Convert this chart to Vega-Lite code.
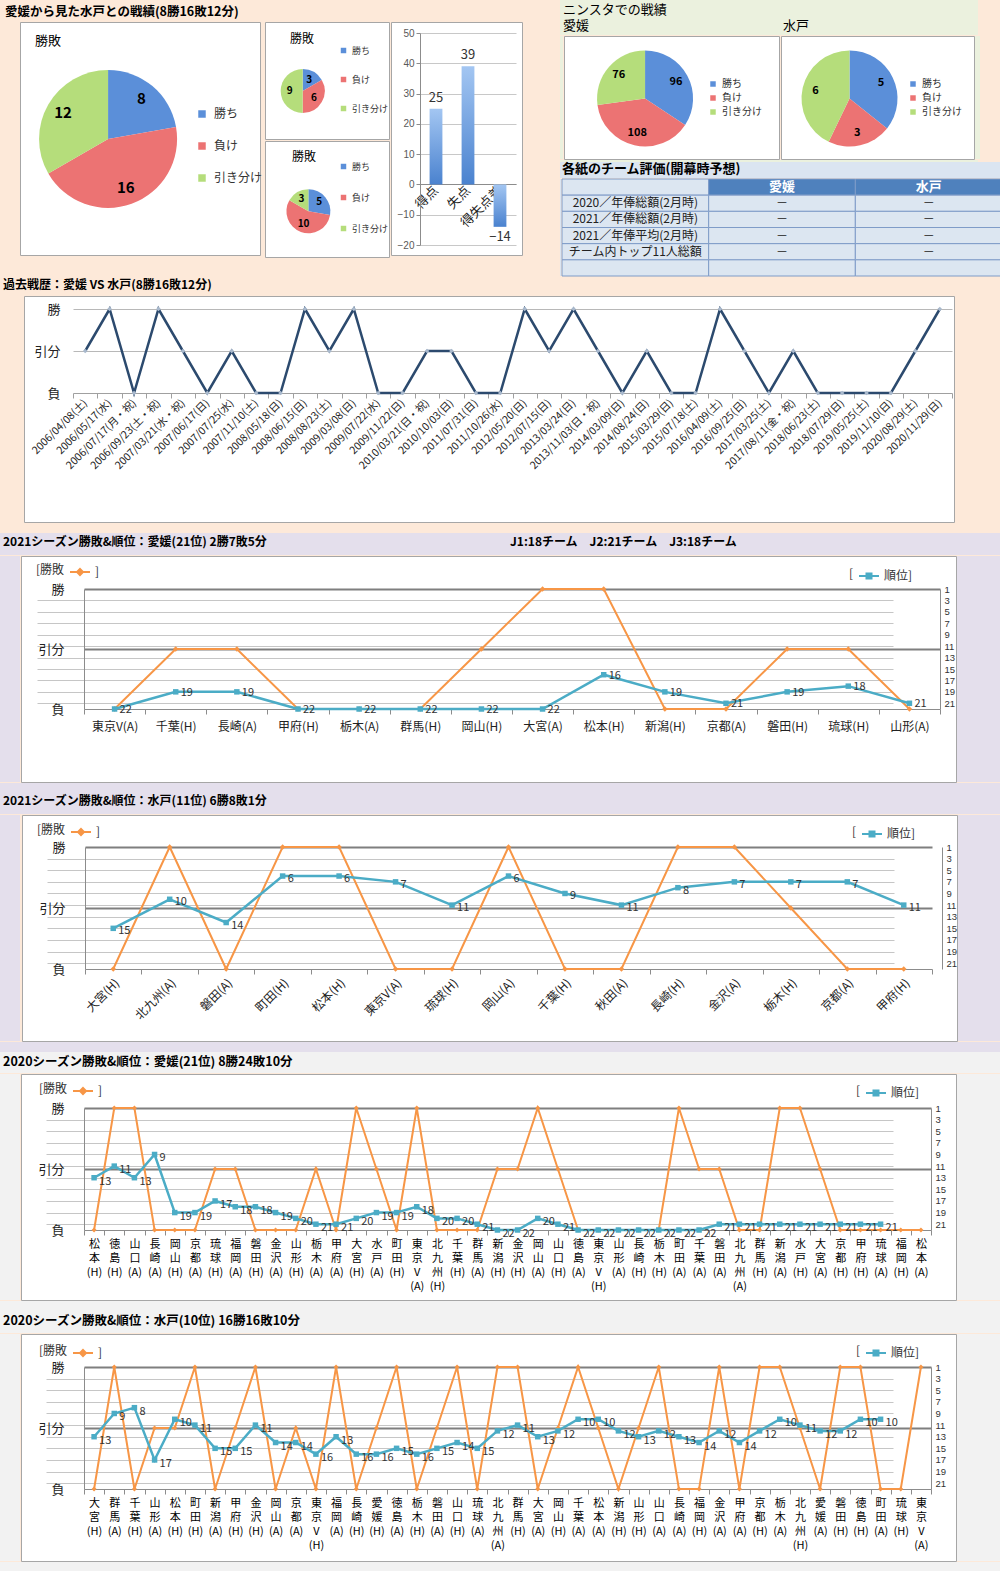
{
"$schema":"https://vega.github.io/schema/vega-lite/v6.json",
"background":"#FDE9D9",
"padding":0,
"spacing":0,
"config":{"font":"Noto Sans CJK JP","view":{"stroke":null},"legend":{"padding":0},"title":{"color":"#000","fontWeight":"bold","fontSize":12,"anchor":"start"},"concat":{"spacing":0}},
"resolve":{"scale":{"color":"independent"}},
"datasets":{
"pAll":[{"k":"勝ち","n":8,"o":1},{"k":"負け","n":16,"o":2},{"k":"引き分け","n":12,"o":3}],
"pS1":[{"k":"勝ち","n":3,"o":1},{"k":"負け","n":6,"o":2},{"k":"引き分け","n":9,"o":3}],
"pS2":[{"k":"勝ち","n":5,"o":1},{"k":"負け","n":10,"o":2},{"k":"引き分け","n":3,"o":3}],
"pE":[{"k":"勝ち","n":96,"o":1},{"k":"負け","n":108,"o":2},{"k":"引き分け","n":76,"o":3}],
"pM":[{"k":"勝ち","n":5,"o":1},{"k":"負け","n":3,"o":2},{"k":"引き分け","n":6,"o":3}],
"bars":[{"k":"得点","v":25},{"k":"失点","v":39},{"k":"得失点差","v":-14}],
"tbl":[
{"r":0,"c":"項目","v":""},{"r":0,"c":"愛媛","v":"愛媛"},{"r":0,"c":"水戸","v":"水戸"},
{"r":1,"c":"項目","v":"2020／年俸総額(2月時)"},{"r":1,"c":"愛媛","v":"－"},{"r":1,"c":"水戸","v":"－"},
{"r":2,"c":"項目","v":"2021／年俸総額(2月時)"},{"r":2,"c":"愛媛","v":"－"},{"r":2,"c":"水戸","v":"－"},
{"r":3,"c":"項目","v":"2021／年俸平均(2月時)"},{"r":3,"c":"愛媛","v":"－"},{"r":3,"c":"水戸","v":"－"},
{"r":4,"c":"項目","v":"チーム内トップ11人総額"},{"r":4,"c":"愛媛","v":"－"},{"r":4,"c":"水戸","v":"－"},
{"r":5,"c":"項目","v":""},{"r":5,"c":"愛媛","v":""},{"r":5,"c":"水戸","v":""}],
"past":[
{"d":"2006/04/08(土)","res":"引分"},{"d":"2006/05/17(水)","res":"勝"},{"d":"2006/07/17(月・祝)","res":"負"},{"d":"2006/09/23(土・祝)","res":"勝"},
{"d":"2007/03/21(水・祝)","res":"引分"},{"d":"2007/06/17(日)","res":"負"},{"d":"2007/07/25(水)","res":"引分"},{"d":"2007/11/10(土)","res":"負"},
{"d":"2008/05/18(日)","res":"負"},{"d":"2008/06/15(日)","res":"勝"},{"d":"2008/08/23(土)","res":"引分"},{"d":"2009/03/08(日)","res":"勝"},
{"d":"2009/07/22(水)","res":"負"},{"d":"2009/11/22(日)","res":"負"},{"d":"2010/03/21(日・祝)","res":"引分"},{"d":"2010/10/03(日)","res":"引分"},
{"d":"2011/07/31(日)","res":"負"},{"d":"2011/10/26(水)","res":"負"},{"d":"2012/05/20(日)","res":"勝"},{"d":"2012/07/15(日)","res":"引分"},
{"d":"2013/03/24(日)","res":"勝"},{"d":"2013/11/03(日・祝)","res":"引分"},{"d":"2014/03/09(日)","res":"負"},{"d":"2014/08/24(日)","res":"引分"},
{"d":"2015/03/29(日)","res":"負"},{"d":"2015/07/18(土)","res":"負"},{"d":"2016/04/09(土)","res":"勝"},{"d":"2016/09/25(日)","res":"引分"},
{"d":"2017/03/25(土)","res":"負"},{"d":"2017/08/11(金・祝)","res":"引分"},{"d":"2018/06/23(土)","res":"負"},{"d":"2018/07/29(日)","res":"負"},
{"d":"2019/05/25(土)","res":"負"},{"d":"2019/11/10(日)","res":"負"},{"d":"2020/08/29(土)","res":"引分"},{"d":"2020/11/29(日)","res":"勝"}],
"e21":[
{"t":"東京V(A)","res":"負","rank":22},{"t":"千葉(H)","res":"引分","rank":19},{"t":"長崎(A)","res":"引分","rank":19},{"t":"甲府(H)","res":"負","rank":22},
{"t":"栃木(A)","res":"負","rank":22},{"t":"群馬(H)","res":"負","rank":22},{"t":"岡山(H)","res":"引分","rank":22},{"t":"大宮(A)","res":"勝","rank":22},
{"t":"松本(H)","res":"勝","rank":16},{"t":"新潟(H)","res":"負","rank":19},{"t":"京都(A)","res":"負","rank":21},{"t":"磐田(H)","res":"引分","rank":19},
{"t":"琉球(H)","res":"引分","rank":18},{"t":"山形(A)","res":"負","rank":21}],
"m21":[
{"t":"大宮(H)","res":"負","rank":15},{"t":"北九州(A)","res":"勝","rank":10},{"t":"磐田(A)","res":"負","rank":14},{"t":"町田(H)","res":"勝","rank":6},
{"t":"松本(H)","res":"勝","rank":6},{"t":"東京V(A)","res":"負","rank":7},{"t":"琉球(H)","res":"負","rank":11},{"t":"岡山(A)","res":"勝","rank":6},
{"t":"千葉(H)","res":"負","rank":9},{"t":"秋田(A)","res":"負","rank":11},{"t":"長崎(H)","res":"勝","rank":8},{"t":"金沢(A)","res":"勝","rank":7},
{"t":"栃木(H)","res":"引分","rank":7},{"t":"京都(A)","res":"負","rank":7},{"t":"甲府(H)","res":"負","rank":11}],
"e20":[
{"t":"松本(H)","res":"負","rank":13},{"t":"徳島(H)","res":"勝","rank":11},{"t":"山口(A)","res":"勝","rank":13},{"t":"長崎(A)","res":"負","rank":9},
{"t":"岡山(H)","res":"負","rank":19},{"t":"京都(A)","res":"負","rank":19},{"t":"琉球(H)","res":"引分","rank":17},{"t":"福岡(A)","res":"引分","rank":18},
{"t":"磐田(H)","res":"負","rank":18},{"t":"金沢(A)","res":"負","rank":19},{"t":"山形(H)","res":"負","rank":20},{"t":"栃木(A)","res":"引分","rank":21},
{"t":"甲府(A)","res":"負","rank":21},{"t":"大宮(H)","res":"勝","rank":20},{"t":"水戸(A)","res":"引分","rank":19},{"t":"町田(H)","res":"負","rank":19},
{"t":"東京V(A)","res":"勝","rank":18},{"t":"北九州(H)","res":"負","rank":20},{"t":"千葉(H)","res":"負","rank":20},{"t":"群馬(A)","res":"負","rank":21},
{"t":"新潟(H)","res":"引分","rank":22},{"t":"金沢(H)","res":"引分","rank":22},{"t":"岡山(A)","res":"勝","rank":20},{"t":"山口(H)","res":"引分","rank":21},
{"t":"徳島(A)","res":"負","rank":22},{"t":"東京V(H)","res":"負","rank":22},{"t":"山形(A)","res":"負","rank":22},{"t":"長崎(H)","res":"負","rank":22},
{"t":"栃木(H)","res":"負","rank":22},{"t":"町田(A)","res":"勝","rank":22},{"t":"千葉(A)","res":"引分","rank":22},{"t":"磐田(A)","res":"引分","rank":21},
{"t":"北九州(A)","res":"負","rank":21},{"t":"群馬(H)","res":"負","rank":21},{"t":"新潟(A)","res":"勝","rank":21},{"t":"水戸(H)","res":"勝","rank":21},
{"t":"大宮(A)","res":"引分","rank":21},{"t":"京都(H)","res":"負","rank":21},{"t":"甲府(H)","res":"負","rank":21},{"t":"琉球(A)","res":"負","rank":21},
{"t":"福岡(H)","res":"負","rank":null},{"t":"松本(A)","res":"負","rank":null}],
"m20":[
{"t":"大宮(H)","res":"負","rank":13},{"t":"群馬(A)","res":"勝","rank":9},{"t":"千葉(H)","res":"負","rank":8},{"t":"山形(A)","res":"引分","rank":17},
{"t":"松本(H)","res":"引分","rank":10},{"t":"町田(H)","res":"勝","rank":11},{"t":"新潟(A)","res":"負","rank":15},{"t":"甲府(H)","res":"引分","rank":15},
{"t":"金沢(H)","res":"勝","rank":11},{"t":"岡山(A)","res":"負","rank":14},{"t":"京都(A)","res":"引分","rank":14},{"t":"東京V(H)","res":"負","rank":16},
{"t":"福岡(A)","res":"勝","rank":13},{"t":"長崎(H)","res":"負","rank":16},{"t":"愛媛(H)","res":"引分","rank":16},{"t":"徳島(A)","res":"勝","rank":15},
{"t":"栃木(H)","res":"負","rank":16},{"t":"磐田(A)","res":"引分","rank":15},{"t":"山口(H)","res":"勝","rank":14},{"t":"琉球(A)","res":"負","rank":15},
{"t":"北九州(A)","res":"勝","rank":12},{"t":"群馬(H)","res":"勝","rank":11},{"t":"大宮(A)","res":"負","rank":13},{"t":"岡山(H)","res":"引分","rank":12},
{"t":"千葉(A)","res":"勝","rank":10},{"t":"松本(A)","res":"引分","rank":10},{"t":"新潟(H)","res":"負","rank":12},{"t":"山形(H)","res":"引分","rank":13},
{"t":"山口(A)","res":"勝","rank":12},{"t":"長崎(A)","res":"負","rank":13},{"t":"福岡(H)","res":"負","rank":14},{"t":"金沢(A)","res":"勝","rank":12},
{"t":"甲府(A)","res":"負","rank":14},{"t":"京都(H)","res":"勝","rank":12},{"t":"栃木(A)","res":"勝","rank":10},{"t":"北九州(H)","res":"引分","rank":11},
{"t":"愛媛(A)","res":"負","rank":12},{"t":"磐田(H)","res":"勝","rank":12},{"t":"徳島(H)","res":"勝","rank":10},{"t":"町田(A)","res":"負","rank":10},
{"t":"琉球(H)","res":"負","rank":null},{"t":"東京V(A)","res":"勝","rank":null}]
},
"vconcat":[
{"hconcat":[
 {"vconcat":[
  {"width":557,"height":21,"data":{"values":[]},"mark":"point","encoding":{},"title":{"text":"愛媛から見た水戸との戦績(8勝16敗12分)","dx":5,"offset":-18,"fontSize":12.5}},
  {"hconcat":[
   {"width":19,"height":233,"data":{"values":[]},"mark":"point","encoding":{}},
   {"width":240,"height":233,"view":{"fill":"white","stroke":"#A6A6A6"},
    "title":{"text":"勝敗","dx":15,"offset":-26,"fontSize":13,"fontWeight":"normal"},
    "data":{"name":"pAll"},
    "encoding":{
     "x":{"datum":"c","type":"nominal","scale":{"type":"point","align":0.367},"axis":null},
     "y":{"datum":"c","type":"nominal","scale":{"type":"point","align":0.502},"axis":null},
     "theta":{"field":"n","type":"quantitative","stack":true},
     "order":{"field":"o","type":"quantitative"}},
    "layer":[
     {"mark":{"type":"arc","outerRadius":69},"encoding":{"color":{"field":"k","type":"nominal","scale":{"domain":["勝ち","負け","引き分け"],"range":["#5B8FD9","#EC7373","#B5DD7B"]},"legend":{"orient":"none","legendX":176,"legendY":86,"title":null,"symbolType":"square","symbolSize":56,"labelFontSize":12,"labelColor":"#333","rowPadding":20,"labelOffset":6}}}},
     {"mark":{"type":"text","radius":52,"fontSize":15,"fontWeight":"bold"},"encoding":{"text":{"field":"n","type":"quantitative"},"color":{"value":"#000"}}}
    ]},
   {"vconcat":[
    {"width":124,"height":117,"view":{"fill":"white","stroke":"#A6A6A6"},
     "title":{"text":"勝敗","dx":25,"offset":-24,"fontSize":12,"fontWeight":"normal"},
     "data":{"name":"pS1"},
     "encoding":{
      "x":{"datum":"c","type":"nominal","scale":{"type":"point","align":0.304},"axis":null},
      "y":{"datum":"c","type":"nominal","scale":{"type":"point","align":0.59},"axis":null},
      "theta":{"field":"n","type":"quantitative","stack":true},
      "order":{"field":"o","type":"quantitative"}},
     "layer":[
      {"mark":{"type":"arc","outerRadius":22},"encoding":{"color":{"field":"k","type":"nominal","scale":{"domain":["勝ち","負け","引き分け"],"range":["#5B8FD9","#EC7373","#B5DD7B"]},"legend":{"orient":"none","legendX":74,"legendY":24,"title":null,"symbolType":"square","symbolSize":30,"labelFontSize":9,"labelColor":"#333","rowPadding":19,"labelOffset":4}}}},
      {"mark":{"type":"text","radius":13,"fontSize":10,"fontWeight":"bold"},"encoding":{"text":{"field":"n","type":"quantitative"},"color":{"value":"#000"}}}
     ]},
    {"width":124,"height":116,"view":{"fill":"white","stroke":"#A6A6A6"},
     "title":{"text":"勝敗","dx":27,"offset":-23,"fontSize":12,"fontWeight":"normal"},
     "data":{"name":"pS2"},
     "encoding":{
      "x":{"datum":"c","type":"nominal","scale":{"type":"point","align":0.35},"axis":null},
      "y":{"datum":"c","type":"nominal","scale":{"type":"point","align":0.606},"axis":null},
      "theta":{"field":"n","type":"quantitative","stack":true},
      "order":{"field":"o","type":"quantitative"}},
     "layer":[
      {"mark":{"type":"arc","outerRadius":22},"encoding":{"color":{"field":"k","type":"nominal","scale":{"domain":["勝ち","負け","引き分け"],"range":["#5B8FD9","#EC7373","#B5DD7B"]},"legend":{"orient":"none","legendX":74,"legendY":21,"title":null,"symbolType":"square","symbolSize":30,"labelFontSize":9,"labelColor":"#333","rowPadding":21,"labelOffset":4}}}},
      {"mark":{"type":"text","radius":14,"fontSize":10,"fontWeight":"bold"},"encoding":{"text":{"field":"n","type":"quantitative"},"color":{"value":"#000"}}}
     ]}
   ],"spacing":0,"resolve":{"scale":{"color":"independent"}}},
   {"width":131,"height":233,"view":{"fill":"white","stroke":"#A6A6A6"},
    "data":{"name":"bars"},
    "encoding":{
     "x":{"field":"k","type":"nominal","sort":null,"scale":{"type":"band","range":[29,125],"paddingInner":0.6,"paddingOuter":0.3},"axis":{"title":null,"orient":"bottom","offset":-71,"labelAngle":-45,"labelAlign":"right","labelBaseline":"middle","labelFontSize":13,"labelColor":"#222","labelPadding":4,"ticks":false,"domainColor":"#8C8C8C","labelLimit":0,"labelOverlap":false}},
     "y":{"field":"v","type":"quantitative","scale":{"domain":[-20,50],"range":[223,11],"nice":false},"axis":{"title":null,"orient":"left","offset":-29,"values":[-20,-10,0,10,20,30,40,50],"labelOverlap":false,"grid":true,"gridColor":"#C8C8C8","domainColor":"#8C8C8C","tickColor":"#8C8C8C","tickSize":4,"labelFont":"Liberation Sans","labelFontSize":10,"labelColor":"#595959","labelPadding":2}}},
    "layer":[
     {"mark":{"type":"bar","color":{"gradient":"linear","x1":0,"y1":0,"x2":0,"y2":1,"stops":[{"offset":0,"color":"#A3C6F2"},{"offset":1,"color":"#4A82CF"}]}}},
     {"transform":[{"filter":"datum.v >= 0"}],"mark":{"type":"text","baseline":"bottom","dy":-4,"fontSize":13,"color":"#333"},"encoding":{"text":{"field":"v","type":"quantitative"}}},
     {"transform":[{"filter":"datum.v < 0"}],"mark":{"type":"text","baseline":"top","dy":4,"fontSize":13,"color":"#333"},"encoding":{"text":{"field":"v","type":"quantitative"}}}
    ]},
   {"width":37,"height":233,"data":{"values":[]},"mark":"point","encoding":{}}
  ],"spacing":0,"resolve":{"scale":{"color":"independent"}}},
  {"width":557,"height":20,"data":{"values":[]},"mark":"point","encoding":{}}
 ],"spacing":0,"resolve":{"scale":{"color":"independent"}}},
 {"vconcat":[
  {"hconcat":[
   {"width":221,"height":35,"data":{"values":[]},"mark":"point","encoding":{},"view":{"fill":"#EBF1DE"},"title":{"text":["ニンスタでの戦績","愛媛"],"dx":3,"offset":-33,"fontSize":13,"fontWeight":"normal","lineHeight":16}},
   {"width":197,"height":35,"data":{"values":[]},"mark":"point","encoding":{},"view":{"fill":"#EBF1DE"},"title":{"text":"水戸","dx":2,"offset":-33,"fontSize":13,"fontWeight":"normal"}},
   {"width":25,"height":35,"data":{"values":[]},"mark":"point","encoding":{}}
  ],"spacing":0},
  {"hconcat":[
   {"width":3,"height":123,"data":{"values":[]},"mark":"point","encoding":{},"view":{"fill":"#EBF1DE"}},
   {"width":215,"height":123,"view":{"fill":"white","stroke":"#A6A6A6"},
    "data":{"name":"pE"},
    "encoding":{
     "x":{"datum":"c","type":"nominal","scale":{"type":"point","align":0.377},"axis":null},
     "y":{"datum":"c","type":"nominal","scale":{"type":"point","align":0.508},"axis":null},
     "theta":{"field":"n","type":"quantitative","stack":true},
     "order":{"field":"o","type":"quantitative"}},
    "layer":[
     {"mark":{"type":"arc","outerRadius":48},"encoding":{"color":{"field":"k","type":"nominal","scale":{"domain":["勝ち","負け","引き分け"],"range":["#5B8FD9","#EC7373","#B5DD7B"]},"legend":{"orient":"none","legendX":144,"legendY":43,"title":null,"symbolType":"square","symbolSize":30,"labelFontSize":10,"labelColor":"#333","rowPadding":4,"labelOffset":4}}}},
     {"mark":{"type":"text","radius":35,"fontSize":11,"fontWeight":"bold"},"encoding":{"text":{"field":"n","type":"quantitative"},"color":{"value":"#000"}}}
    ]},
   {"width":193,"height":123,"view":{"fill":"white","stroke":"#A6A6A6"},
    "data":{"name":"pM"},
    "encoding":{
     "x":{"datum":"c","type":"nominal","scale":{"type":"point","align":0.355},"axis":null},
     "y":{"datum":"c","type":"nominal","scale":{"type":"point","align":0.508},"axis":null},
     "theta":{"field":"n","type":"quantitative","stack":true},
     "order":{"field":"o","type":"quantitative"}},
    "layer":[
     {"mark":{"type":"arc","outerRadius":48},"encoding":{"color":{"field":"k","type":"nominal","scale":{"domain":["勝ち","負け","引き分け"],"range":["#5B8FD9","#EC7373","#B5DD7B"]},"legend":{"orient":"none","legendX":127,"legendY":43,"title":null,"symbolType":"square","symbolSize":30,"labelFontSize":10,"labelColor":"#333","rowPadding":4,"labelOffset":4}}}},
     {"mark":{"type":"text","radius":35,"fontSize":11,"fontWeight":"bold"},"encoding":{"text":{"field":"n","type":"quantitative"},"color":{"value":"#000"}}}
    ]},
   {"width":5,"height":123,"data":{"values":[]},"mark":"point","encoding":{},"view":{"fill":"#EBF1DE"}},
   {"width":25,"height":123,"data":{"values":[]},"mark":"point","encoding":{}}
  ],"spacing":0,"resolve":{"scale":{"color":"independent"}}},
  {"hconcat":[
   {"width":418,"height":2,"data":{"values":[]},"mark":"point","encoding":{},"view":{"fill":"#EBF1DE"}},
   {"width":25,"height":2,"data":{"values":[]},"mark":"point","encoding":{}}
  ],"spacing":0},
  {"hconcat":[
   {"width":441,"height":16,"data":{"values":[]},"mark":"point","encoding":{},"view":{"fill":"#DBE5F1"},"title":{"text":"各紙のチーム評価(開幕時予想)","fontSize":13,"offset":-14,"dx":2}},
   {"width":2,"height":16,"data":{"values":[]},"mark":"point","encoding":{}}
  ],"spacing":0},
  {"hconcat":[
   {"width":1,"height":97,"data":{"values":[]},"mark":"point","encoding":{},"view":{"fill":"#DBE5F1"}},
   {"width":440,"height":97,
    "data":{"name":"tbl"},
    "encoding":{
     "x":{"field":"c","type":"nominal","sort":["項目","愛媛","水戸"],"scale":{"type":"band","paddingInner":0,"paddingOuter":0},"axis":null},
     "y":{"field":"r","type":"ordinal","scale":{"type":"band","paddingInner":0,"paddingOuter":0},"axis":null}},
    "layer":[
     {"mark":{"type":"rect","stroke":"#7F9CC8","strokeWidth":1},"encoding":{"fill":{"condition":{"test":"datum.r == 0 && datum.c != '項目'","value":"#4F81BD"},"value":"#DCE6F1"}}},
     {"transform":[{"filter":"datum.r == 0"}],"mark":{"type":"text","fontSize":13,"fontWeight":"bold","color":"white"},"encoding":{"text":{"field":"v"}}},
     {"transform":[{"filter":"datum.r > 0"}],"mark":{"type":"text","fontSize":12,"color":"#222"},"encoding":{"text":{"field":"v"}}}
    ]},
   {"width":2,"height":97,"data":{"values":[]},"mark":"point","encoding":{}}
  ],"spacing":0},
  {"width":443,"height":1,"data":{"values":[]},"mark":"point","encoding":{}}
 ],"spacing":0,"resolve":{"scale":{"color":"independent"}}}
],"spacing":0,"resolve":{"scale":{"color":"independent"}}},

{"vconcat":[
 {"width":1000,"height":17,"data":{"values":[]},"mark":"point","encoding":{},"title":{"text":"過去戦歴：愛媛 VS 水戸(8勝16敗12分)","dx":3,"offset":-14}},
 {"hconcat":[
  {"width":19,"height":226,"data":{"values":[]},"mark":"point","encoding":{}},
  {"width":930,"height":226,"view":{"fill":"white","stroke":"#A6A6A6"},"data":{"name":"past"},
   "mark":{"type":"line","color":"#2C4A6E","strokeWidth":2.5,"point":{"shape":"diamond","size":22,"filled":true,"color":"#A9B9CD"}},
   "encoding":{
    "x":{"field":"d","type":"nominal","sort":null,"scale":{"type":"band","range":[49,928],"paddingInner":0,"paddingOuter":0},"axis":{"title":null,"orient":"bottom","offset":-129,"labelAngle":-45,"labelAlign":"right","labelBaseline":"middle","labelFontSize":10.5,"labelColor":"#222","labelPadding":3,"tickSize":5,"tickBand":"extent","tickColor":"#A0A0A0","domainColor":"#A0A0A0","labelOverlap":false,"labelLimit":0}},
    "y":{"field":"res","type":"ordinal","scale":{"type":"point","domain":["勝","引分","負"],"range":[13,97],"padding":0},"axis":{"title":null,"orient":"left","offset":-48,"grid":true,"gridColor":"#B8B8B8","gridOpacity":{"condition":{"test":"datum.value === '負'","value":0},"value":1},"ticks":false,"domain":false,"labelPadding":12,"labelFontSize":13,"labelColor":"#222"}},
    "order":{"value":null}}},
  {"width":46,"height":226,"data":{"values":[]},"mark":"point","encoding":{}}
 ],"spacing":0},
 {"width":1000,"height":10,"data":{"values":[]},"mark":"point","encoding":{}}
],"spacing":0},

{"vconcat":[
 {"hconcat":[
  {"width":505,"height":22,"data":{"values":[]},"mark":"point","encoding":{},"view":{"fill":"#E4DFEC"},"title":{"text":"2021シーズン勝敗&順位：愛媛(21位) 2勝7敗5分","dx":3,"offset":-16}},
  {"width":495,"height":22,"data":{"values":[]},"mark":"point","encoding":{},"view":{"fill":"#E4DFEC"},"title":{"text":"J1:18チーム　J2:21チーム　J3:18チーム","dx":5,"offset":-16}}
 ],"spacing":0},
 {"hconcat":[
  {"width":20,"height":226,"data":{"values":[]},"mark":"point","encoding":{},"view":{"fill":"#E4DFEC"}},
  {"width":935,"height":226,"view":{"fill":"white","stroke":"#A6A6A6"},"data":{"name":"e21"},
   "encoding":{"x":{"field":"t","type":"nominal","sort":null,"scale":{"type":"band","range":[63,919],"paddingInner":0,"paddingOuter":0},"axis":{"title":null,"orient":"bottom","offset":-73,"labelAngle":0,"labelFontSize":12,"labelColor":"#222","labelPadding":7,"tickSize":5,"tickBand":"extent","tickColor":"#8C8C8C","domainColor":"#8C8C8C","labelOverlap":false,"labelLimit":0}}},
   "layer":[
    {"mark":{"type":"line","strokeWidth":2,"point":{"shape":"diamond","size":30,"filled":true}},
     "encoding":{"y":{"field":"res","type":"ordinal","scale":{"type":"point","domain":["勝","引分","負"],"range":[33,153],"padding":0},"axis":{"title":null,"orient":"left","offset":-63,"grid":true,"gridColor":"#7F7F7F","gridWidth":2,"gridOpacity":{"condition":{"test":"datum.value === '負'","value":0},"value":1},"ticks":false,"domain":true,"domainColor":"#8C8C8C","labelPadding":20,"labelFontSize":13,"labelColor":"#222"}},
      "color":{"datum":"勝敗","scale":{"range":["#F79646"]},"legend":{"orient":"none","legendX":15,"legendY":5,"title":"[勝敗","titleOrient":"left","titleFontSize":12,"titleFontWeight":"normal","titleColor":"#333","titlePadding":4,"labelExpr":"']'","labelFontSize":12,"labelColor":"#333","labelOffset":4,"symbolType":"M-1,0L1,0M0,-0.3L0.3,0L0,0.3L-0.3,0Z","symbolSize":400,"symbolStrokeWidth":2,"encode":{"symbols":{"update":{"fill":{"value":"#F79646"},"stroke":{"value":"#F79646"}}}}}},
      "order":{"value":null}}},
    {"mark":{"type":"line","strokeWidth":2.5,"point":{"shape":"square","size":30,"filled":true}},
     "encoding":{"y":{"field":"rank","type":"quantitative","scale":{"domain":[1,22],"range":[33,153],"nice":false,"zero":false},"axis":{"title":null,"orient":"right","offset":-16,"values":[1,3,5,7,9,11,13,15,17,19,21],"grid":true,"gridColor":"#C6C6C6","gridOpacity":{"condition":{"test":"datum.value === 1","value":0},"value":1},"ticks":false,"domain":true,"domainColor":"#8C8C8C","labelPadding":4,"labelFont":"Liberation Sans","labelFontSize":9.5,"labelColor":"#333"}},
      "color":{"datum":"順位","scale":{"range":["#4BACC6"]},"legend":{"orient":"none","legendX":828,"legendY":9,"title":"[","titleOrient":"left","titleFontSize":12,"titleFontWeight":"normal","titleColor":"#333","titlePadding":4,"labelExpr":"'順位]'","labelFontSize":12,"labelColor":"#333","labelOffset":4,"symbolType":"M-1,0L1,0M-0.25,-0.25L0.25,-0.25L0.25,0.25L-0.25,0.25Z","symbolSize":400,"symbolStrokeWidth":2,"encode":{"symbols":{"update":{"fill":{"value":"#4BACC6"},"stroke":{"value":"#4BACC6"}}}}}},
      "order":{"value":null}}},
    {"mark":{"type":"text","align":"left","dx":5,"dy":1,"fontSize":11,"color":"#333"},
     "encoding":{"y":{"field":"rank","type":"quantitative","scale":{"domain":[1,22],"range":[33,153],"nice":false,"zero":false},"axis":null},"text":{"field":"rank","type":"quantitative"}}}
   ],
   "resolve":{"scale":{"y":"independent","color":"independent"},"axis":{"y":"independent"}}},
  {"width":45,"height":226,"data":{"values":[]},"mark":"point","encoding":{},"view":{"fill":"#E4DFEC"}}
 ],"spacing":0,"resolve":{"scale":{"color":"independent"}}},
 {"width":1000,"height":10,"data":{"values":[]},"mark":"point","encoding":{},"view":{"fill":"#E4DFEC"}}
],"spacing":0,"resolve":{"scale":{"color":"independent"}}},

{"vconcat":[
 {"width":1000,"height":21,"data":{"values":[]},"mark":"point","encoding":{},"view":{"fill":"#E4DFEC"},"title":{"text":"2021シーズン勝敗&順位：水戸(11位) 6勝8敗1分","dx":3,"offset":-15}},
 {"hconcat":[
  {"width":20,"height":226,"data":{"values":[]},"mark":"point","encoding":{},"view":{"fill":"#E4DFEC"}},
  {"width":935,"height":226,"view":{"fill":"white","stroke":"#A6A6A6"},"data":{"name":"m21"},
   "encoding":{"x":{"field":"t","type":"nominal","sort":null,"scale":{"type":"band","range":[63,910],"paddingInner":0,"paddingOuter":0},"axis":{"title":null,"orient":"bottom","offset":-72,"labelAngle":-45,"labelAlign":"right","labelBaseline":"top","labelFontSize":12,"labelColor":"#222","labelPadding":3,"tickSize":5,"tickBand":"extent","tickColor":"#8C8C8C","domainColor":"#8C8C8C","labelOverlap":false,"labelLimit":0}}},
   "layer":[
    {"mark":{"type":"line","strokeWidth":2,"point":{"shape":"diamond","size":30,"filled":true}},
     "encoding":{"y":{"field":"res","type":"ordinal","scale":{"type":"point","domain":["勝","引分","負"],"range":[32,154],"padding":0},"axis":{"title":null,"orient":"left","offset":-63,"grid":true,"gridColor":"#7F7F7F","gridWidth":2,"gridOpacity":{"condition":{"test":"datum.value === '負'","value":0},"value":1},"ticks":false,"domain":true,"domainColor":"#8C8C8C","labelPadding":20,"labelFontSize":13,"labelColor":"#222"}},
      "color":{"datum":"勝敗","scale":{"range":["#F79646"]},"legend":{"orient":"none","legendX":15,"legendY":6,"title":"[勝敗","titleOrient":"left","titleFontSize":12,"titleFontWeight":"normal","titleColor":"#333","titlePadding":4,"labelExpr":"']'","labelFontSize":12,"labelColor":"#333","labelOffset":4,"symbolType":"M-1,0L1,0M0,-0.3L0.3,0L0,0.3L-0.3,0Z","symbolSize":400,"symbolStrokeWidth":2,"encode":{"symbols":{"update":{"fill":{"value":"#F79646"},"stroke":{"value":"#F79646"}}}}}},
      "order":{"value":null}}},
    {"mark":{"type":"line","strokeWidth":2.5,"point":{"shape":"square","size":30,"filled":true}},
     "encoding":{"y":{"field":"rank","type":"quantitative","scale":{"domain":[1,22],"range":[32,154],"nice":false,"zero":false},"axis":{"title":null,"orient":"right","offset":-15,"values":[1,3,5,7,9,11,13,15,17,19,21],"grid":true,"gridColor":"#C6C6C6","gridOpacity":{"condition":{"test":"datum.value === 1","value":0},"value":1},"ticks":false,"domain":true,"domainColor":"#8C8C8C","labelPadding":4,"labelFont":"Liberation Sans","labelFontSize":9.5,"labelColor":"#333"}},
      "color":{"datum":"順位","scale":{"range":["#4BACC6"]},"legend":{"orient":"none","legendX":830,"legendY":8,"title":"[","titleOrient":"left","titleFontSize":12,"titleFontWeight":"normal","titleColor":"#333","titlePadding":4,"labelExpr":"'順位]'","labelFontSize":12,"labelColor":"#333","labelOffset":4,"symbolType":"M-1,0L1,0M-0.25,-0.25L0.25,-0.25L0.25,0.25L-0.25,0.25Z","symbolSize":400,"symbolStrokeWidth":2,"encode":{"symbols":{"update":{"fill":{"value":"#4BACC6"},"stroke":{"value":"#4BACC6"}}}}}},
      "order":{"value":null}}},
    {"mark":{"type":"text","align":"left","dx":5,"dy":3,"fontSize":11,"color":"#333"},
     "encoding":{"y":{"field":"rank","type":"quantitative","scale":{"domain":[1,22],"range":[32,154],"nice":false,"zero":false},"axis":null},"text":{"field":"rank","type":"quantitative"}}}
   ],
   "resolve":{"scale":{"y":"independent","color":"independent"},"axis":{"y":"independent"}}},
  {"width":45,"height":226,"data":{"values":[]},"mark":"point","encoding":{},"view":{"fill":"#E4DFEC"}}
 ],"spacing":0,"resolve":{"scale":{"color":"independent"}}},
 {"width":1000,"height":10,"data":{"values":[]},"mark":"point","encoding":{},"view":{"fill":"#E4DFEC"}}
],"spacing":0,"resolve":{"scale":{"color":"independent"}}},

{"vconcat":[
 {"width":1000,"height":21,"data":{"values":[]},"mark":"point","encoding":{},"view":{"fill":"#F2F2F2"},"title":{"text":"2020シーズン勝敗&順位：愛媛(21位) 8勝24敗10分","dx":3,"offset":-16,"fontSize":12.5}},
 {"hconcat":[
  {"width":20,"height":226,"data":{"values":[]},"mark":"point","encoding":{},"view":{"fill":"#F2F2F2"}},
  {"width":935,"height":226,"view":{"fill":"white","stroke":"#A6A6A6"},"data":{"name":"e20"},
   "encoding":{"x":{"field":"t","type":"nominal","sort":null,"scale":{"type":"band","range":[63,910],"paddingInner":0,"paddingOuter":0},"axis":{"title":null,"orient":"bottom","offset":-70,"labelAngle":0,"labelAlign":"center","labelBaseline":"top","labelFontSize":11,"labelLineHeight":14,"labelColor":"#000","labelPadding":3,"tickSize":5,"tickBand":"extent","tickColor":"#8C8C8C","domainColor":"#8C8C8C","labelOverlap":false,"labelLimit":0,"labelExpr":"split(replace(datum.label, regexp('([^(])(?=[^)])','g'), '$1|'), '|')"}}},
   "layer":[
    {"mark":{"type":"line","strokeWidth":2,"point":{"shape":"diamond","size":25,"filled":true}},
     "encoding":{"y":{"field":"res","type":"ordinal","scale":{"type":"point","domain":["勝","引分","負"],"range":[34,156],"padding":0},"axis":{"title":null,"orient":"left","offset":-63,"grid":true,"gridColor":"#7F7F7F","gridWidth":2,"gridOpacity":{"condition":{"test":"datum.value === '負'","value":0},"value":1},"ticks":false,"domain":true,"domainColor":"#8C8C8C","labelPadding":20,"labelFontSize":13,"labelColor":"#222"}},
      "color":{"datum":"勝敗","scale":{"range":["#F79646"]},"legend":{"orient":"none","legendX":18,"legendY":6,"title":"[勝敗","titleOrient":"left","titleFontSize":12,"titleFontWeight":"normal","titleColor":"#333","titlePadding":4,"labelExpr":"']'","labelFontSize":12,"labelColor":"#333","labelOffset":4,"symbolType":"M-1,0L1,0M0,-0.3L0.3,0L0,0.3L-0.3,0Z","symbolSize":400,"symbolStrokeWidth":2,"encode":{"symbols":{"update":{"fill":{"value":"#F79646"},"stroke":{"value":"#F79646"}}}}}},
      "order":{"value":null}}},
    {"mark":{"type":"line","strokeWidth":2.5,"point":{"shape":"square","size":30,"filled":true}},
     "encoding":{"y":{"field":"rank","type":"quantitative","scale":{"domain":[1,22],"range":[34,156],"nice":false,"zero":false},"axis":{"title":null,"orient":"right","offset":-25,"values":[1,3,5,7,9,11,13,15,17,19,21],"grid":true,"gridColor":"#C6C6C6","gridOpacity":{"condition":{"test":"datum.value === 1","value":0},"value":1},"ticks":false,"domain":true,"domainColor":"#8C8C8C","labelPadding":4,"labelFont":"Liberation Sans","labelFontSize":9.5,"labelColor":"#333"}},
      "color":{"datum":"順位","scale":{"range":["#4BACC6"]},"legend":{"orient":"none","legendX":835,"legendY":8,"title":"[","titleOrient":"left","titleFontSize":12,"titleFontWeight":"normal","titleColor":"#333","titlePadding":4,"labelExpr":"'順位]'","labelFontSize":12,"labelColor":"#333","labelOffset":4,"symbolType":"M-1,0L1,0M-0.25,-0.25L0.25,-0.25L0.25,0.25L-0.25,0.25Z","symbolSize":400,"symbolStrokeWidth":2,"encode":{"symbols":{"update":{"fill":{"value":"#4BACC6"},"stroke":{"value":"#4BACC6"}}}}}},
      "order":{"value":null}}},
    {"mark":{"type":"text","align":"left","dx":5,"dy":4,"fontSize":11,"color":"#333"},
     "encoding":{"y":{"field":"rank","type":"quantitative","scale":{"domain":[1,22],"range":[34,156],"nice":false,"zero":false},"axis":null},"text":{"field":"rank","type":"quantitative"}}}
   ],
   "resolve":{"scale":{"y":"independent","color":"independent"},"axis":{"y":"independent"}}},
  {"width":45,"height":226,"data":{"values":[]},"mark":"point","encoding":{},"view":{"fill":"#F2F2F2"}}
 ],"spacing":0,"resolve":{"scale":{"color":"independent"}}},
 {"width":1000,"height":8,"data":{"values":[]},"mark":"point","encoding":{},"view":{"fill":"#F2F2F2"}}
],"spacing":0,"resolve":{"scale":{"color":"independent"}}},

{"vconcat":[
 {"width":1000,"height":24,"data":{"values":[]},"mark":"point","encoding":{},"view":{"fill":"#F2F2F2"},"title":{"text":"2020シーズン勝敗&順位：水戸(10位) 16勝16敗10分","dx":3,"offset":-18,"fontSize":12.5}},
 {"hconcat":[
  {"width":20,"height":227,"data":{"values":[]},"mark":"point","encoding":{},"view":{"fill":"#F2F2F2"}},
  {"width":935,"height":227,"view":{"fill":"white","stroke":"#A6A6A6"},"data":{"name":"m20"},
   "encoding":{"x":{"field":"t","type":"nominal","sort":null,"scale":{"type":"band","range":[63,910],"paddingInner":0,"paddingOuter":0},"axis":{"title":null,"orient":"bottom","offset":-72,"labelAngle":0,"labelAlign":"center","labelBaseline":"top","labelFontSize":11,"labelLineHeight":14,"labelColor":"#000","labelPadding":3,"tickSize":5,"tickBand":"extent","tickColor":"#8C8C8C","domainColor":"#8C8C8C","labelOverlap":false,"labelLimit":0,"labelExpr":"split(replace(datum.label, regexp('([^(])(?=[^)])','g'), '$1|'), '|')"}}},
   "layer":[
    {"mark":{"type":"line","strokeWidth":2,"point":{"shape":"diamond","size":25,"filled":true}},
     "encoding":{"y":{"field":"res","type":"ordinal","scale":{"type":"point","domain":["勝","引分","負"],"range":[33,155],"padding":0},"axis":{"title":null,"orient":"left","offset":-63,"grid":true,"gridColor":"#7F7F7F","gridWidth":2,"gridOpacity":{"condition":{"test":"datum.value === '負'","value":0},"value":1},"ticks":false,"domain":true,"domainColor":"#8C8C8C","labelPadding":20,"labelFontSize":13,"labelColor":"#222"}},
      "color":{"datum":"勝敗","scale":{"range":["#F79646"]},"legend":{"orient":"none","legendX":18,"legendY":8,"title":"[勝敗","titleOrient":"left","titleFontSize":12,"titleFontWeight":"normal","titleColor":"#333","titlePadding":4,"labelExpr":"']'","labelFontSize":12,"labelColor":"#333","labelOffset":4,"symbolType":"M-1,0L1,0M0,-0.3L0.3,0L0,0.3L-0.3,0Z","symbolSize":400,"symbolStrokeWidth":2,"encode":{"symbols":{"update":{"fill":{"value":"#F79646"},"stroke":{"value":"#F79646"}}}}}},
      "order":{"value":null}}},
    {"mark":{"type":"line","strokeWidth":2.5,"point":{"shape":"square","size":30,"filled":true}},
     "encoding":{"y":{"field":"rank","type":"quantitative","scale":{"domain":[1,22],"range":[33,155],"nice":false,"zero":false},"axis":{"title":null,"orient":"right","offset":-25,"values":[1,3,5,7,9,11,13,15,17,19,21],"grid":true,"gridColor":"#C6C6C6","gridOpacity":{"condition":{"test":"datum.value === 1","value":0},"value":1},"ticks":false,"domain":true,"domainColor":"#8C8C8C","labelPadding":4,"labelFont":"Liberation Sans","labelFontSize":9.5,"labelColor":"#333"}},
      "color":{"datum":"順位","scale":{"range":["#4BACC6"]},"legend":{"orient":"none","legendX":835,"legendY":8,"title":"[","titleOrient":"left","titleFontSize":12,"titleFontWeight":"normal","titleColor":"#333","titlePadding":4,"labelExpr":"'順位]'","labelFontSize":12,"labelColor":"#333","labelOffset":4,"symbolType":"M-1,0L1,0M-0.25,-0.25L0.25,-0.25L0.25,0.25L-0.25,0.25Z","symbolSize":400,"symbolStrokeWidth":2,"encode":{"symbols":{"update":{"fill":{"value":"#4BACC6"},"stroke":{"value":"#4BACC6"}}}}}},
      "order":{"value":null}}},
    {"mark":{"type":"text","align":"left","dx":5,"dy":4,"fontSize":11,"color":"#333"},
     "encoding":{"y":{"field":"rank","type":"quantitative","scale":{"domain":[1,22],"range":[33,155],"nice":false,"zero":false},"axis":null},"text":{"field":"rank","type":"quantitative"}}}
   ],
   "resolve":{"scale":{"y":"independent","color":"independent"},"axis":{"y":"independent"}}},
  {"width":45,"height":227,"data":{"values":[]},"mark":"point","encoding":{},"view":{"fill":"#F2F2F2"}}
 ],"spacing":0,"resolve":{"scale":{"color":"independent"}}},
 {"width":1000,"height":10,"data":{"values":[]},"mark":"point","encoding":{},"view":{"fill":"#F2F2F2"}}
],"spacing":0,"resolve":{"scale":{"color":"independent"}}}
]
}
